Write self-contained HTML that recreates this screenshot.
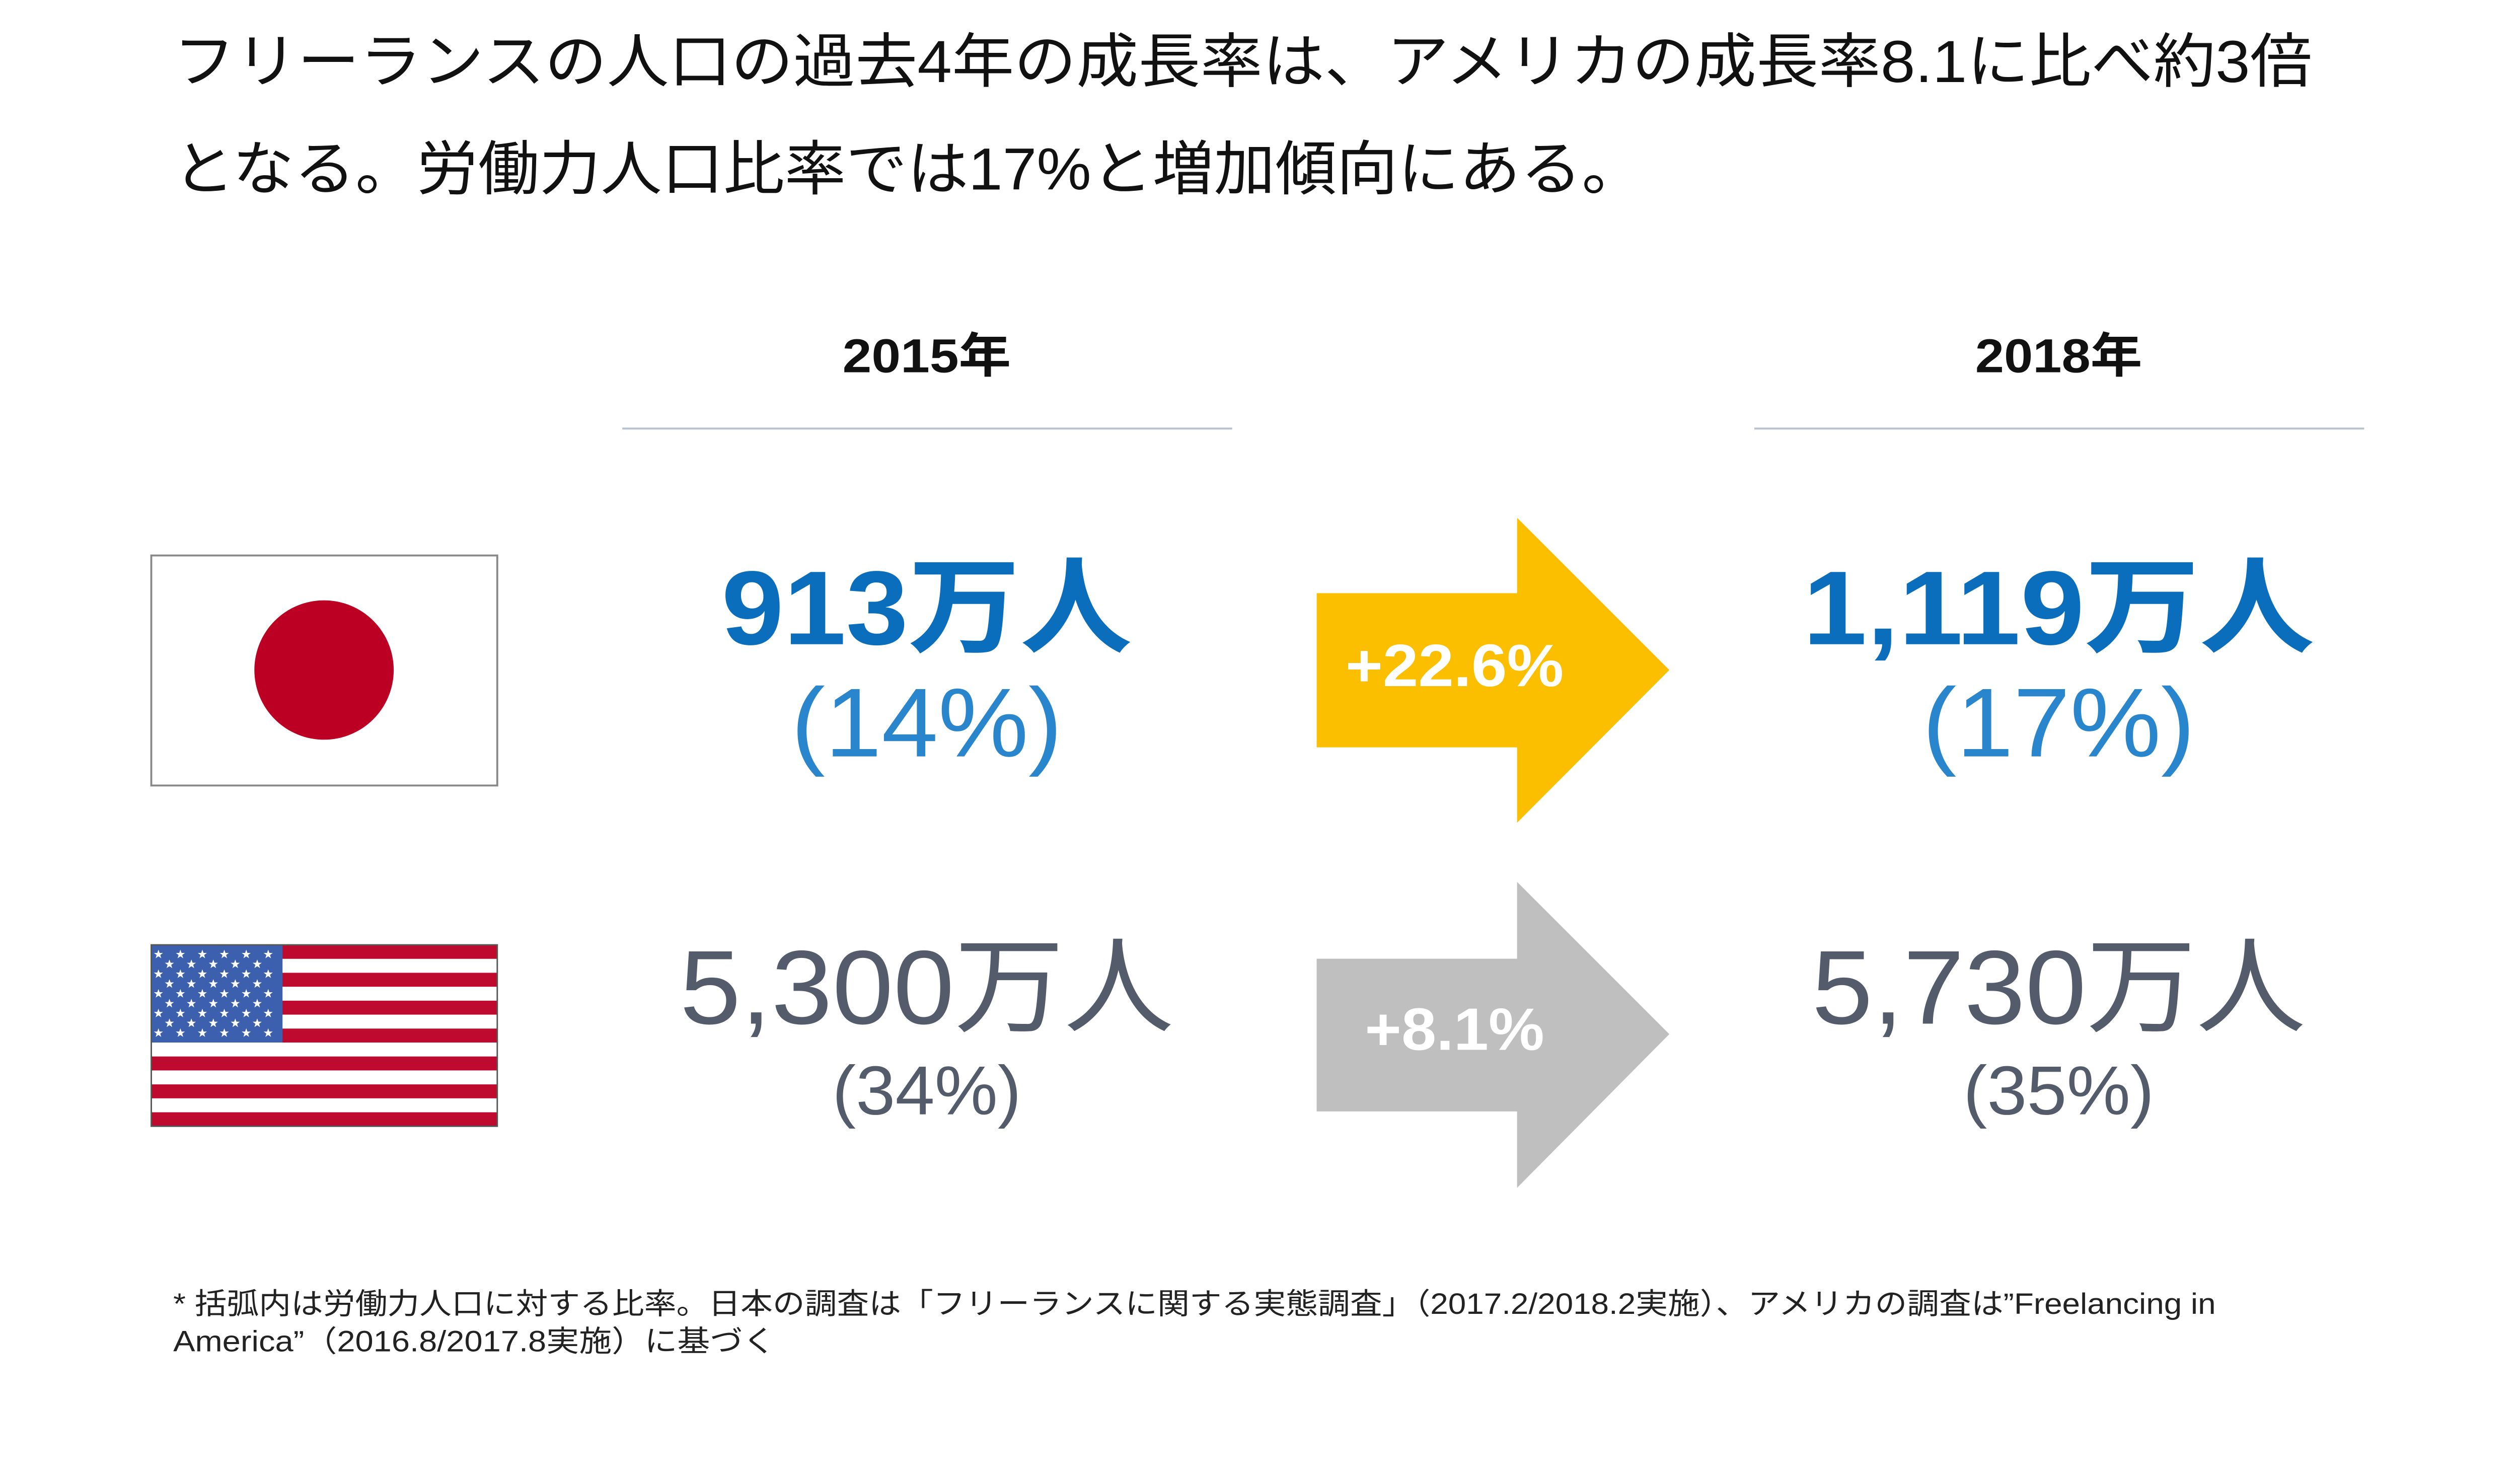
<!DOCTYPE html>
<html><head><meta charset="utf-8"><style>
html,body{margin:0;padding:0;background:#fff;}
svg{display:block;}
text{font-family:"Liberation Sans","Noto Sans CJK JP",sans-serif;}
</style></head><body>
<svg id="chart" width="5241" height="2948" viewBox="0 0 5241 2948" xmlns="http://www.w3.org/2000/svg">
<rect width="5241" height="2948" fill="#fff"/>
<g id="root" transform="scale(0.948)">
<g font-size="124" fill="#111">
<text x="363" y="172" textLength="4482" lengthAdjust="spacingAndGlyphs">フリーランスの人口の過去4年の成長率は、アメリカの成長率8.1に比べ約3倍</text>
<text x="363" y="397" textLength="3080" lengthAdjust="spacingAndGlyphs">となる。労働力人口比率では17%と増加傾向にある。</text>
</g>
<g font-weight="bold" font-size="100" fill="#111" text-anchor="middle">
<text x="1942" y="780" textLength="353" lengthAdjust="spacingAndGlyphs">2015年</text>
<text x="4314" y="780" textLength="350" lengthAdjust="spacingAndGlyphs">2018年</text>
</g>
<line x1="1304" y1="898" x2="2582" y2="898" stroke="#b7c3d0" stroke-width="4"/>
<line x1="3676" y1="898" x2="4954" y2="898" stroke="#b7c3d0" stroke-width="4"/>
<g>
<rect x="317" y="1164" width="725" height="482" fill="#fff" stroke="#888" stroke-width="4"/>
<circle cx="679" cy="1404" r="146" fill="#bc0024"/>
</g>
<g id="usflag"></g>
<g text-anchor="middle">
<text x="1942" y="1350" font-size="220" font-weight="bold" fill="#0a6ebd" textLength="860" lengthAdjust="spacingAndGlyphs">913万人</text>
<text x="1942" y="1585" font-size="205" fill="#2a86cc" textLength="568" lengthAdjust="spacingAndGlyphs">(14%)</text>
<text x="4314" y="1350" font-size="220" font-weight="bold" fill="#0a6ebd" textLength="1072" lengthAdjust="spacingAndGlyphs">1,119万人</text>
<text x="4314" y="1585" font-size="205" fill="#2a86cc" textLength="571" lengthAdjust="spacingAndGlyphs">(17%)</text>
</g>
<g>
<polygon points="2759,1243 3179,1243 3179,1085 3498,1404 3179,1724 3179,1566 2759,1566" fill="#fcbf00"/>
<text x="3048" y="1438" font-size="125" font-weight="bold" fill="#fff" text-anchor="middle" textLength="457" lengthAdjust="spacingAndGlyphs">+22.6%</text>
</g>
<g>
<polygon points="2759,2009 3179,2009 3179,1848 3498,2167 3179,2489 3179,2329 2759,2329" fill="#bfbfbf"/>
<text x="3048" y="2200" font-size="125" font-weight="bold" fill="#fff" text-anchor="middle" textLength="376" lengthAdjust="spacingAndGlyphs">+8.1%</text>
</g>
<g text-anchor="middle" fill="#545b6b">
<text x="1942" y="2145" font-size="220" textLength="1035" lengthAdjust="spacingAndGlyphs">5,300万人</text>
<text x="1942" y="2335" font-size="145" textLength="396" lengthAdjust="spacingAndGlyphs">(34%)</text>
<text x="4314" y="2145" font-size="220" textLength="1035" lengthAdjust="spacingAndGlyphs">5,730万人</text>
<text x="4314" y="2335" font-size="145" textLength="400" lengthAdjust="spacingAndGlyphs">(35%)</text>
</g>
<g font-size="62" fill="#222">
<text x="363" y="2753" textLength="4280" lengthAdjust="spacingAndGlyphs">* 括弧内は労働力人口に対する比率。日本の調査は「フリーランスに関する実態調査」（2017.2/2018.2実施）、アメリカの調査は”Freelancing in</text>
<text x="363" y="2832" textLength="1262" lengthAdjust="spacingAndGlyphs">America”（2016.8/2017.8実施）に基づく</text>
</g>
</g>
</svg>
<script>
var ns="http://www.w3.org/2000/svg";
var g=document.getElementById('usflag');
var x0=317,y0=1980,w=725,h=380,sh=h/13;
for(var i=0;i<13;i++){
  var r=document.createElementNS(ns,'rect');
  r.setAttribute('x',x0);r.setAttribute('y',y0+i*sh);r.setAttribute('width',w);r.setAttribute('height',sh+0.5);
  r.setAttribute('fill',i%2?'#fff':'#bf0a30');
  
  
  g.appendChild(r);
}
var cw=275,chh=sh*7;
var c=document.createElementNS(ns,'rect');
c.setAttribute('x',x0);c.setAttribute('y',y0);c.setAttribute('width',cw);c.setAttribute('height',chh);c.setAttribute('fill','#3c5fae');


g.appendChild(c);
function star(cx,cy,R){var p=[];for(var k=0;k<10;k++){var a=-Math.PI/2+k*Math.PI/5,rr=k%2?R*0.4:R;p.push((cx+rr*Math.cos(a)).toFixed(1)+','+(cy+rr*Math.sin(a)).toFixed(1));}
  var s=document.createElementNS(ns,'polygon');s.setAttribute('points',p.join(' '));s.setAttribute('fill','#fff');
  
  
  g.appendChild(s);}
for(var row=0;row<9;row++){var n=row%2?5:6;for(var col=0;col<n;col++){
  star(x0+15+col*46+(row%2?23:0),y0+20+row*20.6,10);}}
var b=document.createElementNS(ns,'rect');
b.setAttribute('x',x0);b.setAttribute('y',y0);b.setAttribute('width',w);b.setAttribute('height',h);b.setAttribute('fill','none');b.setAttribute('stroke','#555');b.setAttribute('stroke-width','3');


g.appendChild(b);
</script>
</body></html>
